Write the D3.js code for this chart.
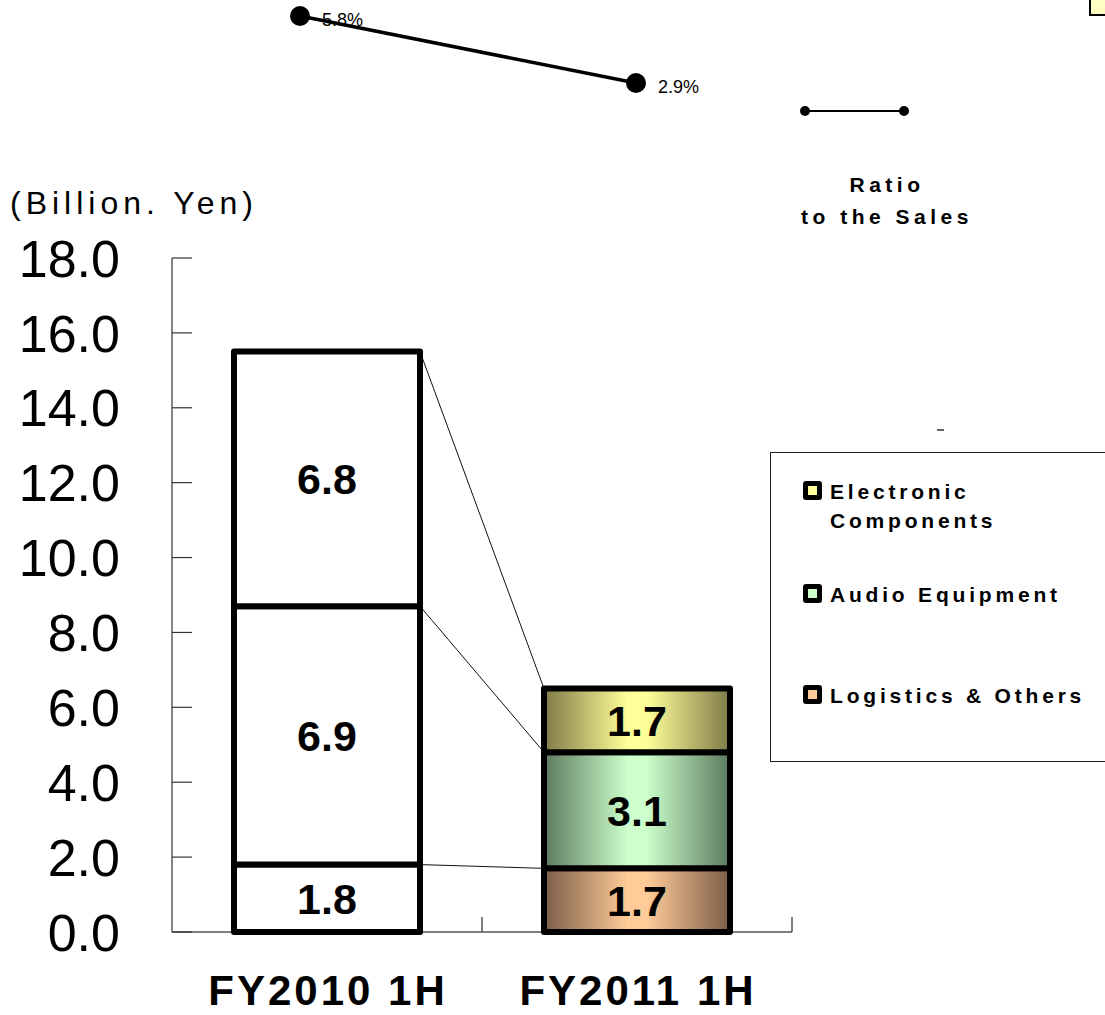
<!DOCTYPE html>
<html>
<head>
<meta charset="utf-8">
<script src="https://cdn.jsdelivr.net/npm/d3@7"></script>
<style>
  html, body { margin: 0; padding: 0; background: #fff; }
  svg { display: block; }
</style>
</head>
<body>
<svg id="chart" width="1105" height="1015"></svg>
<script>
// Half-year sales by segment (billion yen) and operating ratio to sales (%)
const categories = ["FY2010 1H", "FY2011 1H"];
const segmentNames = ["Logistics & Others", "Audio Equipment", "Electronic Components"];
const logistics = [1.8, 1.7];
const audio = [6.9, 3.1];
const electronic = [6.8, 1.7];
const ratio = [5.8, 2.9];
const yTicks = [0, 2, 4, 6, 8, 10, 12, 14, 16, 18];
const legendLabels = [["Electronic", "Components"], ["Audio Equipment"], ["Logistics & Others"]];

const svg = d3.select("#chart");
const fontSans = "'Liberation Sans', Arial, sans-serif";

// gradients for the coloured segments
const defs = svg.append("defs");
const grads = {
  "Logistics & Others": ["#7a5c46", "#ffcc99"],
  "Audio Equipment": ["#5c7a5e", "#ccffcc"],
  "Electronic Components": ["#7e7a48", "#ffff99"]
};
Object.entries(grads).forEach(([name, [dark, light]], i) => {
  const g = defs.append("linearGradient").attr("id", "grad" + i)
    .attr("x1", "0%").attr("x2", "100%").attr("y1", "0%").attr("y2", "0%");
  g.append("stop").attr("offset", "0%").attr("stop-color", dark);
  g.append("stop").attr("offset", "45%").attr("stop-color", light);
  g.append("stop").attr("offset", "55%").attr("stop-color", light);
  g.append("stop").attr("offset", "100%").attr("stop-color", dark);
});
const gradId = name => "url(#grad" + Object.keys(grads).indexOf(name) + ")";

// scales
const x = d3.scaleBand().domain(categories).range([172, 792]).padding(0);
const y = d3.scaleLinear().domain([0, 18]).range([932, 258]);
const barW = x.bandwidth() * 0.6;

// axes
const axisColor = "#333";
svg.append("line").attr("x1", 172).attr("x2", 172).attr("y1", y(18)).attr("y2", y(0))
  .attr("stroke", axisColor).attr("stroke-width", 1.2);
svg.append("line").attr("x1", 172).attr("x2", 792).attr("y1", y(0)).attr("y2", y(0))
  .attr("stroke", "#555").attr("stroke-width", 1.5);

svg.selectAll(".ytick").data(yTicks).join("line")
  .attr("x1", 172).attr("x2", 192)
  .attr("y1", d => y(d)).attr("y2", d => y(d))
  .attr("stroke", axisColor).attr("stroke-width", 1.2);

svg.selectAll(".ylab").data(yTicks).join("text")
  .attr("x", 120).attr("y", d => y(d))
  .attr("dy", "0.36em")
  .attr("text-anchor", "end")
  .style("font-family", fontSans).style("font-size", "52px")
  .text(d => d.toFixed(1));

// category boundary ticks on the x axis
svg.selectAll(".xtick").data(categories).join("line")
  .attr("x1", d => x(d) + x.bandwidth()).attr("x2", d => x(d) + x.bandwidth())
  .attr("y1", y(0)).attr("y2", y(0) - 15)
  .attr("stroke", "#555").attr("stroke-width", 1.5);

svg.selectAll(".xlab").data(categories).join("text")
  .attr("x", d => x(d) + x.bandwidth() / 2 + 1).attr("y", 1005)
  .attr("text-anchor", "middle")
  .style("font-family", fontSans).style("font-size", "42px").style("font-weight", "bold")
  .style("letter-spacing", "3px")
  .text(d => d);

svg.append("text").attr("x", 10).attr("y", 214)
  .style("font-family", fontSans).style("font-size", "32px")
  .style("letter-spacing", "5px")
  .text("(Billion. Yen)");

// stacked data
const stackRows = categories.map((c, i) => ({
  cat: c,
  "Logistics & Others": logistics[i],
  "Audio Equipment": audio[i],
  "Electronic Components": electronic[i]
}));
const stacked = d3.stack().keys(segmentNames)(stackRows);

// connector lines between stacked boundaries of the two bars
const boundaries = stacked.map(s => [s[0][1], s[1][1]]);
svg.selectAll(".conn").data(boundaries).join("line")
  .attr("x1", x(categories[0]) + x.bandwidth() / 2 + barW / 2)
  .attr("x2", x(categories[1]) + x.bandwidth() / 2 - barW / 2)
  .attr("y1", d => y(d[0])).attr("y2", d => y(d[1]))
  .attr("stroke", "#111").attr("stroke-width", 1);

// bars
stacked.forEach(layer => {
  const g = svg.append("g");
  g.selectAll("rect").data(layer).join("rect")
    .attr("x", d => x(d.data.cat) + x.bandwidth() / 2 - barW / 2)
    .attr("width", barW)
    .attr("y", d => y(d[1]))
    .attr("height", d => y(d[0]) - y(d[1]))
    .attr("fill", (d, i) => i === 0 ? "#fff" : gradId(layer.key))
    .attr("stroke", "#000").attr("stroke-width", 6)
    .attr("stroke-linejoin", "round");
  g.selectAll("text").data(layer).join("text")
    .attr("x", d => x(d.data.cat) + x.bandwidth() / 2)
    .attr("y", d => y((d[0] + d[1]) / 2))
    .attr("dy", "0.36em")
    .attr("text-anchor", "middle")
    .style("font-family", fontSans).style("font-size", "43px").style("font-weight", "bold")
    .text(d => (d[1] - d[0]).toFixed(1));
});

// ratio line
const xr = d3.scalePoint().domain(categories).range([300, 636]);
const yr = d3.scaleLinear().domain([2.9, 5.8]).range([83, 16]);
const line = d3.line().x((d, i) => xr(categories[i])).y(d => yr(d));
svg.append("path").datum(ratio).attr("d", line)
  .attr("fill", "none").attr("stroke", "#000").attr("stroke-width", 3.5);
svg.selectAll(".rpt").data(ratio).join("circle")
  .attr("cx", (d, i) => xr(categories[i])).attr("cy", d => yr(d)).attr("r", 10)
  .attr("fill", "#000");
svg.selectAll(".rlab").data(ratio).join("text")
  .attr("x", (d, i) => xr(categories[i]) + 22).attr("y", d => yr(d) + 10)
  .style("font-family", fontSans).style("font-size", "18px")
  .text(d => d.toFixed(1) + "%");

// ratio legend
const legFont = "'Liberation Sans', Arial, sans-serif";
svg.append("line").attr("x1", 805).attr("x2", 904).attr("y1", 111).attr("y2", 111)
  .attr("stroke", "#000").attr("stroke-width", 2);
svg.selectAll(".ldot").data([805, 904]).join("circle")
  .attr("cx", d => d).attr("cy", 111).attr("r", 5).attr("fill", "#000");
svg.append("text").attr("x", 887).attr("y", 192).attr("text-anchor", "middle")
  .style("font-family", legFont).style("font-size", "21px").style("font-weight", "bold")
  .style("letter-spacing", "4.5px").text("Ratio");
svg.append("text").attr("x", 887).attr("y", 224).attr("text-anchor", "middle")
  .style("font-family", legFont).style("font-size", "21px").style("font-weight", "bold")
  .style("letter-spacing", "4.5px").text("to the Sales");

// small marks near the edges
svg.append("rect").attr("x", 1090).attr("y", -4).attr("width", 20).attr("height", 19)
  .attr("fill", "#ffffc4").attr("stroke", "#000").attr("stroke-width", 2);
svg.append("line").attr("x1", 937).attr("x2", 944).attr("y1", 430).attr("y2", 430)
  .attr("stroke", "#333").attr("stroke-width", 1.5);

// segment legend
svg.append("rect").attr("x", 770.5).attr("y", 452.5).attr("width", 345).attr("height", 309)
  .attr("fill", "#fff").attr("stroke", "#222").attr("stroke-width", 1);

const legendY = [491, 594, 695];
const swatchFill = ["#ffff99", "#ccffcc", "#ffcc99"];
legendLabels.forEach((lines, i) => {
  const yy = legendY[i];
  svg.append("rect").attr("x", 803).attr("y", yy - 10).attr("width", 19).attr("height", 19)
    .attr("rx", 3).attr("fill", "#000");
  svg.append("rect").attr("x", 808).attr("y", yy - 5).attr("width", 9).attr("height", 9)
    .attr("fill", swatchFill[i]);
  lines.forEach((t, j) => {
    svg.append("text").attr("x", 830).attr("y", yy + j * 29).attr("dy", "0.36em")
      .style("font-family", legFont).style("font-size", "21px").style("font-weight", "bold")
      .style("letter-spacing", "3.8px").text(t);
  });
});
</script>
</body>
</html>
